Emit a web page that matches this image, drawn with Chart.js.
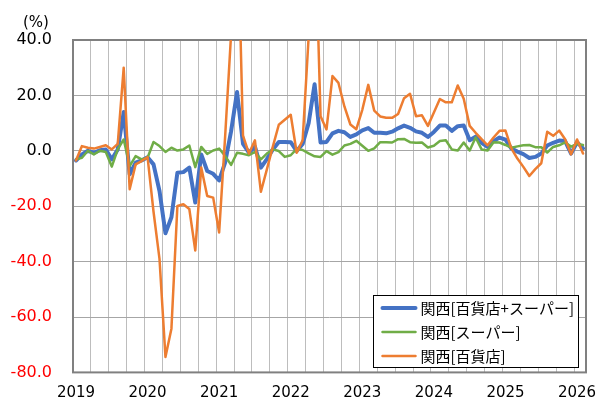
<!DOCTYPE html>
<html lang="ja">
<head>
<meta charset="utf-8">
<script src="https://cdn.jsdelivr.net/npm/chart.js@4.4.1/dist/chart.umd.min.js"></script>
<style>
  html, body { margin: 0; padding: 0; background: #fff; }
  #wrap { width: 597px; height: 403px; }
</style>
</head>
<body>
<div id="wrap"><canvas id="chart" width="597" height="403"></canvas></div>
<script>
// 年（各年1〜12月、2026年は1〜2月まで）
const years = [2019, 2020, 2021, 2022, 2023, 2024, 2025, 2026];
const lastYearMonths = 2;

const seriesNames = ['関西[百貨店+スーパー]', '関西[スーパー]', '関西[百貨店]'];

// 前年同月比 (%)
const totalSales = [
  -3.5, -1.3, 0.0, -0.7, 0.2, 0.5, -3.1, 0.5, 14.0, -8.5, -4.3, -3.5,
  -2.3, -4.9, -14.5, -29.8, -24.0, -7.9, -7.7, -6.1, -18.7, -1.3, -7.3, -8.3,
  -10.7, -4.3, 7.0, 21.2, 2.5, -0.7, 1.5, -6.1, -3.0, 0.5, 3.2, 3.2,
  3.1, -0.1, 2.5, 10.0, 24.0, 3.0, 3.2, 6.3, 7.2, 6.7, 5.0, 5.9,
  7.4, 8.2, 6.5, 6.5, 6.3, 6.9, 8.1, 9.1, 8.3, 7.0, 6.5, 5.0,
  6.8, 9.1, 9.1, 7.2, 8.9, 9.1, 3.8, 5.1, 2.9, 1.4, 3.5, 4.8,
  4.0, 0.8, -0.3, -1.2, -2.6, -2.2, -1.0, 1.9, 2.9, 3.7, 3.5, -1.0,
  3.1, 0.9
];
const superSales = [
  -3.1, -2.5, 0.0, -1.3, 0.0, -0.4, -5.7, 0.5, 4.1, -5.5, -1.9, -3.1,
  -2.5, 3.2, 1.7, -0.4, 1.1, 0.1, 0.5, 1.9, -5.9, 1.4, -1.1, 0.1,
  0.8, -1.9, -5.1, -0.7, -1.1, -1.6, -0.4, -3.1, -1.0, 0.5, -0.1, -2.2,
  -1.6, 0.7, 0.3, -0.9, -2.0, -2.2, -0.1, -1.4, -0.5, 1.9, 2.5, 3.6,
  1.8, 0.0, 0.9, 3.1, 3.1, 3.0, 4.2, 4.3, 3.1, 2.9, 3.0, 1.2,
  1.8, 3.5, 3.8, 0.5, 0.1, 3.0, 0.1, 4.8, 0.5, 0.1, 3.1, 3.0,
  2.1, 1.1, 1.6, 2.0, 2.1, 1.3, 1.3, -0.6, 1.4, 2.0, 3.0, 1.5,
  2.5, 2.1
];
const deptSales = [
  -3.5, 1.7, 1.1, 0.8, 1.4, 2.0, 0.5, 2.5, 30.0, -13.9, -4.9, -3.7,
  -2.3, -22.0, -39.0, -74.4, -64.2, -19.9, -19.3, -21.0, -36.0, -6.0, -16.3, -16.9,
  -29.5, 5.0, 42.0, 92.0, 5.5, -1.0, 3.8, -14.8, -6.7, 1.5, 9.4, 11.2,
  13.0, -0.7, 3.8, 41.0, 88.0, 12.5, 7.7, 27.0, 24.5, 16.0, 9.5, 7.8,
  14.8, 23.8, 14.5, 12.4, 11.9, 11.9, 13.3, 19.0, 20.6, 12.5, 12.8, 9.0,
  13.8, 18.7, 17.5, 17.5, 23.6, 18.8, 9.0, 6.5, 4.2, 2.0, 4.8, 7.2,
  7.3, 0.8, -2.8, -5.8, -9.1, -6.6, -4.5, 6.9, 5.4, 7.3, 4.2, -1.3,
  4.1, -1.0
];

const yTicks = [40, 20, 0, -20, -40, -60, -80];

// 月ラベル
const labels = [];
years.forEach((y, k) => {
  const n = k === years.length - 1 ? lastYearMonths : 12;
  for (let m = 1; m <= n; m++) labels.push(y + '/' + m);
});

// プロットエリアの枠
const plotFrame = {
  id: 'plotFrame',
  beforeDatasetsDraw(chart) {
    const { ctx, chartArea: a } = chart;
    ctx.save();
    ctx.strokeStyle = '#808080';
    ctx.lineWidth = 2;
    ctx.strokeRect(a.left, a.top, a.right - a.left, a.bottom - a.top);
    ctx.restore();
  },
  afterDraw(chart) {
    const { ctx } = chart;
    ctx.save();
    ctx.font = '15px "DejaVu Sans"';
    ctx.fillStyle = '#000';
    ctx.textBaseline = 'middle';
    ctx.fillText('(%)', 23, 23);
    ctx.restore();
  }
};

// 凡例（プロット内右下）
const legendBox = {
  id: 'legendBox',
  afterDatasetsDraw(chart) {
    const { ctx } = chart;
    const x = 373.5, y = 295.5, w = 205, h = 72;
    ctx.save();
    ctx.fillStyle = '#fff';
    ctx.fillRect(x, y, w, h);
    ctx.strokeStyle = '#000';
    ctx.lineWidth = 1;
    ctx.strokeRect(x, y, w, h);
    ctx.font = '15px "Noto Sans CJK JP"';
    ctx.textBaseline = 'middle';
    chart.data.datasets.forEach((ds, i) => {
      const cy = y + 12.5 + i * 24;
      ctx.strokeStyle = ds.borderColor;
      ctx.lineWidth = ds.borderWidth;
      ctx.lineCap = 'round';
      ctx.beginPath();
      ctx.moveTo(x + 9, cy);
      ctx.lineTo(x + 42, cy);
      ctx.stroke();
      ctx.fillStyle = '#000';
      ctx.fillText(ds.label, x + 47, cy);
    });
    ctx.restore();
  }
};

const lineStyle = { pointRadius: 0, tension: 0, borderJoinStyle: 'round', borderCapStyle: 'round', clip: 0 };

new Chart(document.getElementById('chart'), {
  type: 'line',
  data: {
    labels,
    datasets: [
      { label: seriesNames[0], data: totalSales, borderColor: '#4472C4', borderWidth: 4, order: 3, ...lineStyle },
      { label: seriesNames[1], data: superSales, borderColor: '#70AD47', borderWidth: 2.5, order: 2, ...lineStyle },
      { label: seriesNames[2], data: deptSales, borderColor: '#ED7D31', borderWidth: 2.5, order: 1, ...lineStyle }
    ]
  },
  options: {
    responsive: false,
    animation: false,
    layout: { padding: { top: 40, right: 11, left: 0, bottom: 0 } },
    plugins: { legend: { display: false }, tooltip: { enabled: false } },
    scales: {
      x: {
        offset: true,
        border: { display: false },
        grid: {
          offset: true,
          drawTicks: false,
          lineWidth: 1,
          color: c => (c.index % 3 === 0 ? '#bdbdbd' : 'transparent')
        },
        ticks: {
          autoSkip: false,
          maxRotation: 0,
          minRotation: 0,
          padding: 12,
          color: '#000',
          font: { family: 'DejaVu Sans', size: 15 },
          callback: (v, i) => (i % 12 === 0 ? String(years[i / 12]) : '')
        },
        afterFit: s => { s.height = 29; }
      },
      y: {
        min: Math.min(...yTicks),
        max: Math.max(...yTicks),
        border: { display: false },
        grid: { color: '#a6a6a6', lineWidth: 1, drawTicks: false },
        ticks: {
          stepSize: yTicks[0] - yTicks[1],
          padding: 21,
          font: { family: 'DejaVu Sans', size: 16 },
          color: c => (c.tick.value < 0 ? '#ff0000' : '#000'),
          callback: v => v.toFixed(1)
        },
        afterFit: s => { s.width = 73; }
      }
    }
  },
  plugins: [plotFrame, legendBox]
});
</script>
</body>
</html>
